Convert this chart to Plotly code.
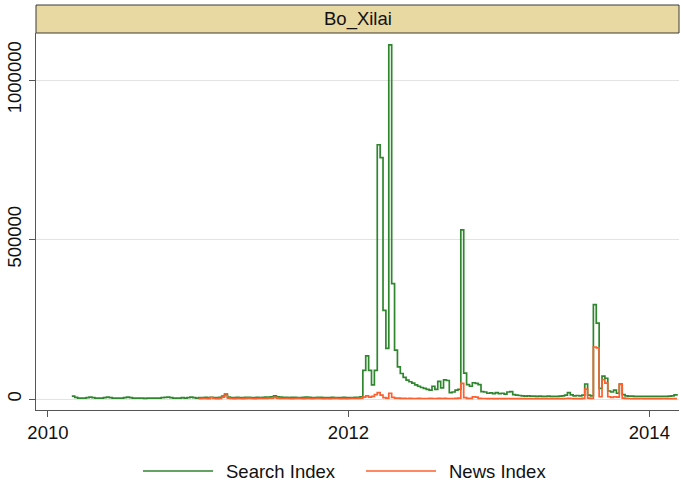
import pandas as pd
import plotly.graph_objects as go

# Weekly series, first week starting 2010-02-28
start_week = "2010-02-28"

search_index = [
    9000, 5000, 3000, 3000, 3000, 4000, 6000, 4000, 3000, 3000,
    3000, 4000, 6000, 4000, 3000, 3000, 3000, 3000, 4000, 6000,
    4000, 3000, 3000, 3000, 3000, 2000, 3000, 3000, 3000, 3000,
    3000, 4000, 5000, 6000, 4000, 3000, 3000, 3000, 4000, 3000,
    4000, 6000, 4000, 3000, 4000, 4000, 5000, 4000, 5000, 4000,
    4000, 5000, 9000, 15000, 6000, 4000, 4000, 5000, 4000, 4000,
    5000, 5000, 4000, 4000, 5000, 4000, 5000, 6000, 6000, 7000,
    10000, 7000, 6000, 5000, 5000, 4000, 5000, 5000, 4000, 4000,
    5000, 6000, 5000, 4000, 4000, 5000, 5000, 4000, 4000, 4000,
    5000, 4000, 4000, 4000, 5000, 4000, 4000, 4000, 5000, 5000,
    7000, 90000, 135000, 90000, 44000, 90000, 797000, 757000, 278000, 159000,
    1110000, 362000, 153000, 101000, 80000, 68000, 59000, 54000, 50000, 44000,
    40000, 36000, 33000, 30000, 28000, 40000, 30000, 55000, 35000, 60000,
    58000, 20000, 22000, 28000, 30000, 530000, 81000, 45000, 40000, 51000,
    49000, 45000, 23000, 22000, 18000, 19000, 17000, 20000, 17000, 18000,
    15000, 22000, 23000, 14000, 12000, 11000, 10000, 9000, 10000, 9000,
    9000, 8000, 9000, 8000, 8000, 9000, 8000, 8000, 8000, 9000,
    10000, 12000, 20000, 13000, 10000, 11000, 10000, 12000, 47000, 12000,
    10000, 296000, 238000, 33000, 72000, 65000, 25000, 22000, 28000, 18000,
    47000, 14000, 10000, 9000, 9000, 8000, 8000, 8000, 8000, 8000,
    8000, 8000, 8000, 8000, 8000, 8000, 8000, 9000, 10000, 13000,
    16000,
]

# News index begins with the week of 2011-01-02
news_offset = 44
news_index = [
    1000, 2000, 1500, 1000, 4000, 1500,
    1000, 2000, 6000, 12000, 3000, 1500, 1000, 2000, 1500, 1000,
    2000, 3000, 1500, 1000, 1500, 2000, 1500, 2000, 2500, 3000,
    5000, 3000, 2000, 1500, 2000, 1500, 1000, 1500, 2000, 1500,
    1000, 2000, 1500, 1000, 1500, 2000, 1500, 1000, 1500, 1000,
    1500, 2000, 1500, 1000, 1500, 1000, 1500, 2000, 1500, 2000,
    3000, 6000, 10000, 6000, 8000, 14000, 20000, 12000, 4000, 3000,
    18000, 5000, 3000, 2500, 2000, 2000, 1500, 2000, 1500, 1500,
    2000, 1500, 1500, 1500, 2000, 1500, 1500, 2000, 1500, 2000,
    1500, 1500, 1500, 2000, 3000, 49000, 4000, 2000, 2000, 7000,
    6000, 2000, 1500, 1500, 1000, 1500, 1000, 1000, 1500, 1000,
    1000, 1500, 1000, 1000, 1000, 1000, 1000, 1000, 1000, 1000,
    1000, 1000, 1000, 1000, 1000, 1000, 1000, 1000, 1000, 1000,
    1000, 1500, 2000, 1500, 1000, 1000, 1000, 2000, 31000, 3000,
    2000, 163000, 160000, 7000, 61000, 50000, 7000, 5000, 7000, 6000,
    46000, 3000, 2000, 1500, 1000, 1000, 1000, 1500, 1000, 1000,
    1000, 1000, 1000, 1000, 1000, 1500, 1000, 1000, 1000, 1000,
    1000,
]

panel_title = "Bo_Xilai"
series_names = ["Search Index", "News Index"]
x_ticks = ["2010-01-01", "2012-01-01", "2014-01-01"]
x_tick_text = ["2010", "2012", "2014"]
y_ticks = [0, 500000, 1000000]

GREEN = "#2f862f"
ORANGE = "#ff5f2e"
FONT = "Liberation Sans, Arial, Helvetica, sans-serif"

weeks = pd.date_range(start_week, periods=len(search_index), freq="7D")
news_weeks = weeks[news_offset:news_offset + len(news_index)]

fig = go.Figure()
fig.add_trace(go.Scatter(
    x=weeks, y=search_index, mode="lines", name=series_names[0],
    line=dict(color=GREEN, width=1.7, shape="hv"), showlegend=False,
))
fig.add_trace(go.Scatter(
    x=news_weeks, y=news_index, mode="lines", name=series_names[1],
    line=dict(color=ORANGE, width=1.7, shape="hv"), showlegend=False,
))

W, H = 681, 488
ml, mr, mt, mb = 36, 2, 33, 78
plot_h = H - mt - mb
strip_h = 28

fig.update_layout(
    width=W, height=H,
    margin=dict(l=ml, r=mr, t=mt, b=mb, pad=0),
    paper_bgcolor="white", plot_bgcolor="white",
    font=dict(family=FONT, size=18, color="#111111"),
    xaxis=dict(
        type="date",
        range=["2009-12-03", "2014-03-14"],
        tickvals=x_ticks, ticktext=x_tick_text,
        showgrid=False, zeroline=False,
        showline=True, linecolor="#555555", linewidth=1,
        ticks="outside", ticklen=6, tickcolor="#555555", tickwidth=1,
        ticklabelstandoff=0,
        tickfont=dict(size=18.5),
    ),
    yaxis=dict(
        range=[-34500, 1147400],
        tickvals=y_ticks, ticktext=[str(v) for v in y_ticks],
        tickangle=-90,
        showgrid=True, gridcolor="#e3e3e3", gridwidth=1.2,
        zeroline=False,
        showline=True, linecolor="#555555", linewidth=1,
        ticks="outside", ticklen=6, tickcolor="#555555", tickwidth=1,
        ticklabelstandoff=1,
        tickfont=dict(size=18.5),
    ),
)

# Panel header strip
fig.add_shape(
    type="rect", xref="paper", yref="paper",
    x0=0, x1=1, y0=1, y1=1 + strip_h / plot_h,
    fillcolor="#e8d9a2", line=dict(color="#3a3a3a", width=1),
    layer="above",
)
fig.add_annotation(
    xref="paper", yref="paper", x=0.5, y=1 + strip_h / plot_h / 2,
    text=panel_title, showarrow=False, xanchor="center", yanchor="middle",
    font=dict(size=18.5, color="#111111", family=FONT),
)

# Legend below the plot
plot_w = W - ml - mr
leg_y = -(471 - (H - mb)) / plot_h


def px(x):
    return (x - ml) / plot_w


legend_items = [
    (series_names[0], GREEN, 143, 213, 224),
    (series_names[1], ORANGE, 366, 436, 447),
]
for label, color, x0, x1, xt in legend_items:
    fig.add_shape(
        type="line", xref="paper", yref="paper",
        x0=px(x0), x1=px(x1), y0=leg_y, y1=leg_y,
        line=dict(color=color, width=1.7),
    )
    fig.add_annotation(
        xref="paper", yref="paper", x=px(xt), y=leg_y,
        text=label, showarrow=False, xanchor="left", yanchor="middle",
        font=dict(size=18.5, color="#111111", family=FONT),
    )

fig.write_html("out.html")
